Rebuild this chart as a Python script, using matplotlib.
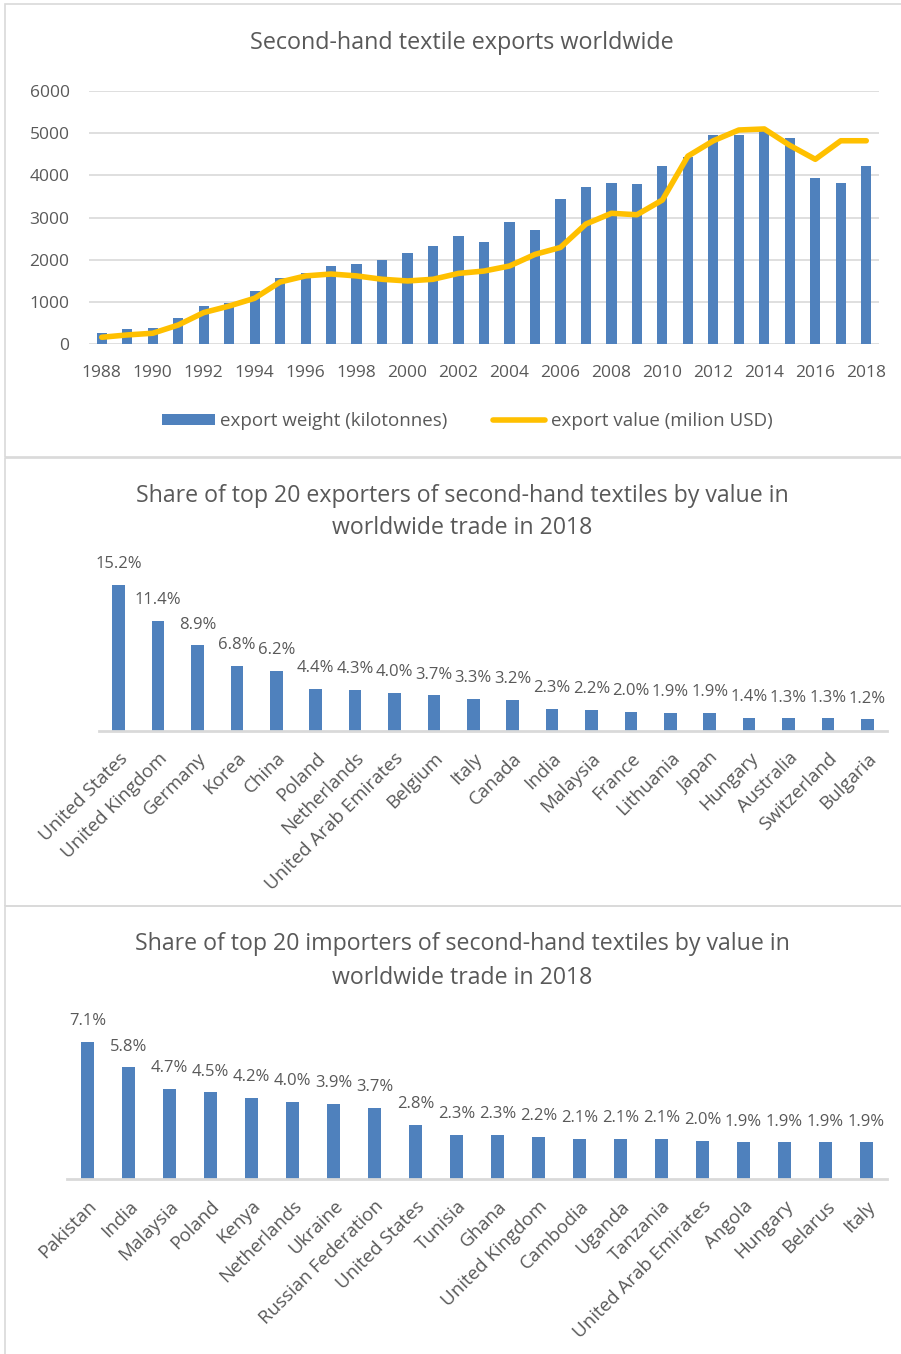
import matplotlib as mpl
mpl.use("Agg")
import matplotlib.pyplot as plt
from matplotlib.patches import Rectangle
import numpy as np

plt.rcParams["font.family"] = ["Open Sans", "DejaVu Sans"]

# data
years = list(range(1988, 2019))
export_weight = [270, 350, 370, 610, 900, 965, 1255, 1555, 1690, 1840, 1890, 1990,
                 2165, 2325, 2560, 2425, 2900, 2705, 3440, 3715, 3810, 3795, 4220,
                 4425, 4950, 4965, 5040, 4885, 3935, 3825, 4220]
export_value = [160, 215, 255, 450, 745, 900, 1085, 1470, 1615, 1660, 1615, 1535,
                1495, 1535, 1675, 1730, 1850, 2125, 2290, 2845, 3100, 3065, 3415,
                4455, 4820, 5075, 5100, 4710, 4380, 4820, 4820]

exporters = ["United States", "United Kingdom", "Germany", "Korea", "China", "Poland",
             "Netherlands", "United Arab Emirates", "Belgium", "Italy", "Canada",
             "India", "Malaysia", "France", "Lithuania", "Japan", "Hungary",
             "Australia", "Switzerland", "Bulgaria"]
exporter_share = [15.2, 11.4, 8.9, 6.8, 6.2, 4.4, 4.3, 4.0, 3.7, 3.3, 3.2, 2.3, 2.2,
                  2.0, 1.9, 1.9, 1.4, 1.3, 1.3, 1.2]

importers = ["Pakistan", "India", "Malaysia", "Poland", "Kenya", "Netherlands",
             "Ukraine", "Russian Federation", "United States", "Tunisia", "Ghana",
             "United Kingdom", "Cambodia", "Uganda", "Tanzania",
             "United Arab Emirates", "Angola", "Hungary", "Belarus", "Italy"]
importer_share = [7.1, 5.8, 4.7, 4.5, 4.2, 4.0, 3.9, 3.7, 2.8, 2.3, 2.3, 2.2, 2.1,
                  2.1, 2.1, 2.0, 1.9, 1.9, 1.9, 1.9]

BLUE = "#4F81BD"
YELLOW = "#FFC000"
GREY = "#595959"
LIGHT = "#D9D9D9"

W, H = 901, 1354
fig = plt.figure(figsize=(W / 100, H / 100), dpi=100)


def px_axes(x0, y0, x1, y1):
    # pixel box (top-left origin) -> figure axes
    return fig.add_axes([x0 / W, 1 - y1 / H, (x1 - x0) / W, (y1 - y0) / H])


# panel frames
for (y0, y1) in [(4, 457), (458, 906), (906, 1360)]:
    fig.patches.append(Rectangle((5 / W, 1 - y1 / H), (W + 5) / W, (y1 - y0) / H,
                                 transform=fig.transFigure, fill=False,
                                 edgecolor=LIGHT, lw=1.2))

# ---- panel 1 ----
ax1 = px_axes(89, 91, 879, 344)
x = np.arange(len(years))
bars = ax1.bar(x, export_weight, width=0.4, color=BLUE, zorder=2)
line, = ax1.plot(x, export_value, color=YELLOW, lw=4, solid_joinstyle="round",
                 solid_capstyle="round", zorder=3)
ax1.set_xlim(-0.5, len(years) - 0.5)
ax1.set_ylim(0, 6000)
ax1.set_yticks(range(0, 6001, 1000))
ax1.set_xticks(x[::2])
ax1.set_xticklabels([str(y) for y in years[::2]])
ax1.grid(axis="y", color=LIGHT, lw=1.2, zorder=0)
for s in ax1.spines.values():
    s.set_visible(False)
ax1.tick_params(length=0, colors=GREY, labelsize=12.5)
ax1.tick_params(axis="x", pad=15)
ax1.tick_params(axis="y", pad=14)
fig.text(462 / W, 1 - 43 / H, "Second-hand textile exports worldwide",
         ha="center", va="center", color=GREY, fontsize=16.8)
ax1.legend([bars, line], ["export weight (kilotonnes)", "export value (milion USD)"],
           loc="center", bbox_to_anchor=(0.479, -0.304), ncol=2, frameon=False,
           fontsize=13.5, labelcolor=GREY, handlelength=2.8, handletextpad=0.3,
           columnspacing=2.4, handleheight=0.55)


def share_panel(box, names, vals, ymax):
    ax = px_axes(*box)
    xs = np.arange(len(names))
    ax.bar(xs, vals, width=0.32, color=BLUE, zorder=2)
    ax.set_xlim(-0.5, len(names) - 0.5)
    ax.set_ylim(0, ymax)
    ax.set_yticks([])
    for s in ["top", "right", "left"]:
        ax.spines[s].set_visible(False)
    ax.spines["bottom"].set_color(LIGHT)
    ax.spines["bottom"].set_linewidth(2)
    ax.set_xticks(xs)
    ax.set_xticklabels(names, rotation=45, ha="right", va="top",
                       rotation_mode="anchor")
    ax.tick_params(length=0, colors=GREY, labelsize=13.5, pad=13)
    for xi, v in zip(xs, vals):
        ax.annotate(f"{v:.1f}%", (xi, v), xytext=(0, 15), textcoords="offset points",
                    ha="center", va="center", color=GREY, fontsize=12)
    return ax


ax2 = share_panel((99, 577, 887, 731), exporters, exporter_share, 16)
fig.text(462 / W, 1 - 512 / H,
         "Share of top 20 exporters of second-hand textiles by value in\nworldwide trade in 2018",
         ha="center", va="center", color=GREY, fontsize=16.7, linespacing=1.5)

ax3 = share_panel((67, 1025, 887, 1179), importers, importer_share, 8)
fig.text(462 / W, 1 - 961 / H,
         "Share of top 20 importers of second-hand textiles by value in\nworldwide trade in 2018",
         ha="center", va="center", color=GREY, fontsize=16.7, linespacing=1.5)

fig.savefig("out.png", dpi=100)
